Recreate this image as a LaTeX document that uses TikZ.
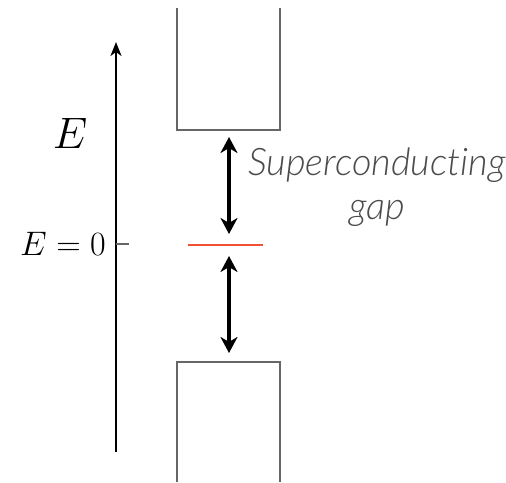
\documentclass[tikz,border=0pt]{standalone}
\usepackage{fix-cm}
\usepackage{fontspec}
\newfontfamily\gapfont[Ligatures={NoCommon,NoRare,NoContextual}]{Lato Light Italic}
\usetikzlibrary{arrows.meta}
\begin{document}
\begin{tikzpicture}[x=1pt,y=-1pt,
  band/.style={draw=black!60,line width=1.6pt},
  gaparrow/.style={line width=3.4pt,{Stealth[length=16pt,width=17pt,inset=5pt]}-{Stealth[length=16pt,width=17pt,inset=5pt]}},
  axis/.style={line width=1.8pt,-{Stealth[length=14pt,width=11pt,inset=4pt]}}]
\useasboundingbox (0,0) rectangle (506,482);
% axis
\coordinate (axb) at (116,452);
\coordinate (axt) at (116,42);
\draw[axis] (axb) -- (axt);
\coordinate (tick0) at (116,244);
\coordinate (tick1) at (129,244);
\draw[line width=1.2pt,black!60] (tick0) -- (tick1);
\node[anchor=center,font=\fontsize{44}{48}\selectfont] (elabel) at (70,133) {$E$};
\node[anchor=east,font=\fontsize{34}{38}\selectfont,inner sep=0pt] (e0) at (106,244) {$E=0$};
% top band
\coordinate (t1) at (177,8);
\coordinate (t2) at (177,130);
\coordinate (t3) at (280,130);
\coordinate (t4) at (280,8);
\draw[band] (t1) -- (t2) -- (t3) -- (t4);
% bottom band
\coordinate (b1) at (177,482);
\coordinate (b2) at (177,362);
\coordinate (b3) at (280,362);
\coordinate (b4) at (280,482);
\draw[band] (b1) -- (b2) -- (b3) -- (b4);
% fermi level
\coordinate (f1) at (188,245);
\coordinate (f2) at (263,245);
\draw[line width=2.4pt,color={rgb,255:red,242;green,80;blue,50}] (f1) -- (f2);
% gap arrows
\coordinate (a1) at (229,137);
\coordinate (a2) at (229,234);
\coordinate (a3) at (229,256);
\coordinate (a4) at (229,353);
\draw[gaparrow] (a1) -- (a2);
\draw[gaparrow] (a3) -- (a4);
\node[font=\gapfont\fontsize{38}{44}\selectfont,text=black!70,align=center] (gaptxt) at (377,187) {Superconducting\\gap};
\end{tikzpicture}
\end{document}
